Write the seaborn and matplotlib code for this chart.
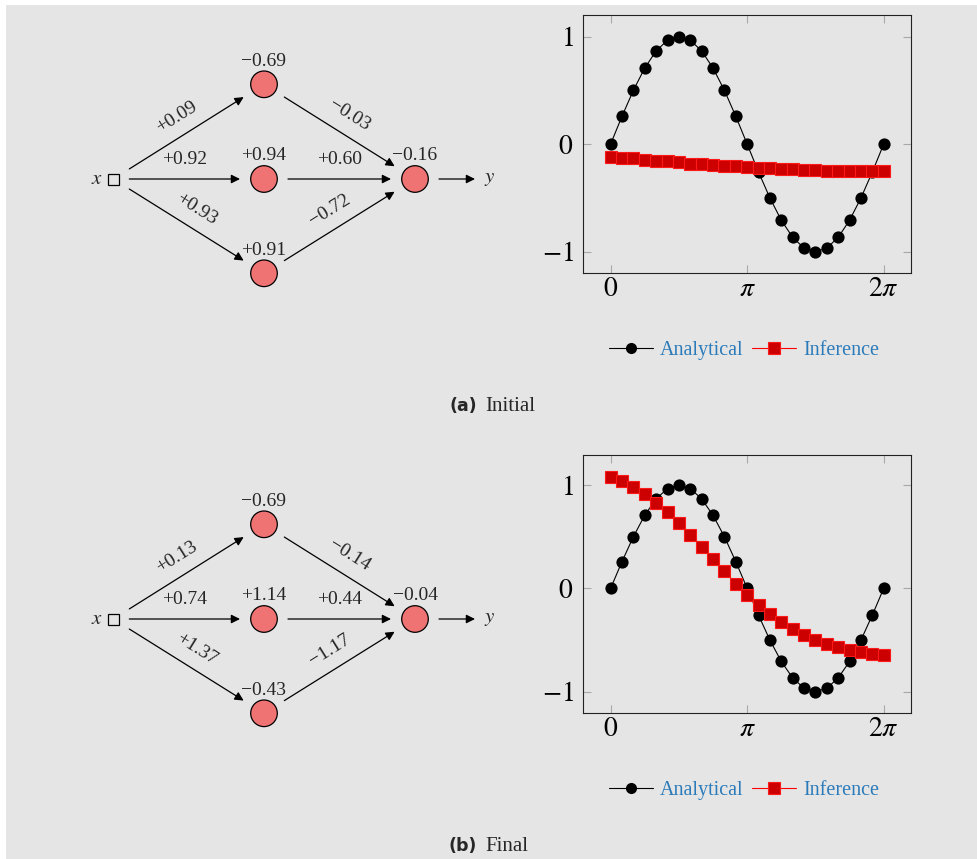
import matplotlib
matplotlib.use("Agg")
import matplotlib.pyplot as plt
import seaborn as sns
import pandas as pd
from matplotlib.patches import Circle, Rectangle
from matplotlib.lines import Line2D

# ---------------- data ----------------
x_vals = [0.0, 0.262, 0.524, 0.785, 1.047, 1.309, 1.571, 1.833, 2.094, 2.356,
          2.618, 2.880, 3.142, 3.403, 3.665, 3.927, 4.189, 4.451, 4.712, 4.974,
          5.236, 5.498, 5.760, 6.021, 6.283]
analytical = [0.0, 0.259, 0.5, 0.707, 0.866, 0.966, 1.0, 0.966, 0.866, 0.707,
              0.5, 0.259, 0.0, -0.259, -0.5, -0.707, -0.866, -0.966, -1.0, -0.966,
              -0.866, -0.707, -0.5, -0.259, 0.0]
inference_initial = [-0.115, -0.127, -0.133, -0.143, -0.152, -0.161, -0.170, -0.180,
                     -0.186, -0.195, -0.201, -0.207, -0.214, -0.220, -0.226, -0.229,
                     -0.232, -0.238, -0.241, -0.245, -0.248, -0.251, -0.251, -0.254,
                     -0.254]
inference_final = [1.082, 1.037, 0.979, 0.911, 0.827, 0.737, 0.631, 0.518, 0.399,
                   0.280, 0.164, 0.046, -0.065, -0.161, -0.251, -0.329, -0.396,
                   -0.451, -0.500, -0.538, -0.570, -0.596, -0.615, -0.632, -0.647]

hidden_bias_initial = [-0.69, 0.94, 0.91]
w_in_initial = [0.09, 0.92, 0.93]
w_out_initial = [-0.03, 0.60, -0.72]
out_bias_initial = -0.16

hidden_bias_final = [-0.69, 1.14, -0.43]
w_in_final = [0.13, 0.74, 1.37]
w_out_final = [-0.14, 0.44, -1.17]
out_bias_final = -0.04

xtick_vals = [0.0, 3.1416, 6.2832]
xtick_labels = ["$0$", "$\\pi$", "$2\\pi$"]
ytick_vals = [-1, 0, 1]
ytick_labels = ["$-1$", "$0$", "$1$"]
legend_labels = ["Analytical", "Inference"]
caption_tags = ["(a)", "(b)"]
caption_texts = ["Initial", "Final"]

# ---------------- style ----------------
sns.set_theme(style="ticks")
plt.rcParams["font.family"] = ["Liberation Serif", "DejaVu Serif"]
plt.rcParams["mathtext.fontset"] = "stix"

W, H = 978, 859
BG = "#e5e5e5"
NODE = "#f07373"
LEG_BLUE = "#2b7bbb"

fig = plt.figure(figsize=(W / 100, H / 100), dpi=100)
fig.patch.set_facecolor("white")
fig.add_artist(Rectangle((6 / W, 0), (W - 6) / W, (H - 5) / H,
                         transform=fig.transFigure, facecolor=BG,
                         edgecolor="none", zorder=-10))

# diagram canvas in pixel coordinates
ax_d = fig.add_axes([0, 0, 1, 1])
ax_d.set_xlim(0, W)
ax_d.set_ylim(H, 0)
ax_d.axis("off")
ax_d.patch.set_alpha(0)


def fmt(v):
    return f"{v:+.2f}".replace("-", "\u2212")


def arrow(ax, p0, p1):
    ax.annotate("", xy=p1, xytext=p0,
                arrowprops=dict(arrowstyle="-|>", color="black", lw=0.9,
                                mutation_scale=13, shrinkA=0, shrinkB=0))


def draw_network(ax, oy, hb, w_in, w_out, ob):
    import math
    inp = (113.3, 179 + oy)
    hid = [(264, 84.3 + oy), (264, 179 + oy), (264, 273.3 + oy)]
    out = (415, 179 + oy)
    r = 13.3
    gap = 24
    fs = 14
    # input
    ax.text(inp[0] - 16, inp[1] + 1, "$x$", ha="center", va="center", fontsize=15)
    ax.add_patch(Rectangle((inp[0] - 5.5, inp[1] - 5.5), 11, 11, facecolor="none",
                           edgecolor="black", lw=0.9))
    # nodes
    for (hx, hy), b in zip(hid, hb):
        ax.add_patch(Circle((hx, hy), r, facecolor=NODE, edgecolor="black", lw=0.9))
        ax.text(hx, hy - 23, fmt(b), ha="center", va="center", fontsize=fs)
    ax.add_patch(Circle(out, r, facecolor=NODE, edgecolor="black", lw=0.9))
    ax.text(out[0], out[1] - 23, fmt(ob), ha="center", va="center", fontsize=fs)

    def edge(p_start, p_end, w, start_x=None, start_gap=None):
        dx, dy = p_end[0] - p_start[0], p_end[1] - p_start[1]
        L = math.hypot(dx, dy)
        ux, uy = dx / L, dy / L
        if start_x is not None:
            t = (start_x - p_start[0]) / dx
            s = (start_x, p_start[1] + t * dy)
        else:
            s = (p_start[0] + start_gap * ux, p_start[1] + start_gap * uy)
        e = (p_end[0] - gap * ux, p_end[1] - gap * uy)
        arrow(ax, s, e)
        # label above (perpendicular pointing up on screen)
        nx, ny = uy, -ux
        if ny > 0:
            nx, ny = -nx, -ny
        mx, my = (s[0] + e[0]) / 2, (s[1] + e[1]) / 2
        rot = -math.degrees(math.atan2(dy, dx))
        ax.text(mx + 19 * nx, my + 19 * ny, fmt(w), ha="center", va="center",
                fontsize=fs, rotation=rot, rotation_mode="anchor")

    for h, w in zip(hid, w_in):
        edge(inp, h, w, start_x=129.3)
    for h, w in zip(hid, w_out):
        edge(h, out, w, start_gap=gap)
    arrow(ax, (out[0] + gap, out[1]), (475, out[1]))
    ax.text(490, out[1], "$y$", ha="center", va="center", fontsize=15)


def draw_chart(oy, inference):
    left, right, top, bottom = 583.3, 911, 15 + oy, 273.3 + oy
    ax = fig.add_axes([left / W, 1 - bottom / H, (right - left) / W, (bottom - top) / H])
    ax.set_facecolor("none")
    df = pd.DataFrame({"x": x_vals, "analytical": analytical, "inference": inference})
    sns.lineplot(data=df, x="x", y="analytical", ax=ax, color="black", marker="o",
                 markersize=8.8, markeredgewidth=0, linewidth=0.8, sort=False)
    sns.lineplot(data=df, x="x", y="inference", ax=ax, color="red", marker="s",
                 markersize=8.4, markerfacecolor="#cc0000", markeredgecolor="#ff1a1a",
                 markeredgewidth=0.8, linewidth=0.8, sort=False)
    ax.margins(x=0.1, y=0.1)
    ax.set_xticks(xtick_vals)
    ax.set_xticklabels(xtick_labels)
    ax.set_yticks(ytick_vals)
    ax.set_yticklabels(ytick_labels)
    ax.set_xlabel("")
    ax.set_ylabel("")
    ax.tick_params(direction="in", length=6, width=0.8, color="#a8a8a8",
                   top=True, right=True, labelsize=20, labelcolor="black")
    ax.tick_params(axis="y", pad=7)
    ax.tick_params(axis="x", pad=3)
    for sp in ax.spines.values():
        sp.set_visible(True)
        sp.set_color("#222222")
        sp.set_linewidth(0.8)
    handles = [
        Line2D([], [], color="black", marker="o", markersize=8, markeredgewidth=0, lw=0.8),
        Line2D([], [], color="red", marker="s", markersize=8, markerfacecolor="#cc0000",
               markeredgecolor="#ff1a1a", markeredgewidth=0.8, lw=0.8),
    ]
    fig.legend(handles, legend_labels, loc="center",
               bbox_to_anchor=(744 / W, 1 - (350 + oy) / H), ncol=2, frameon=False,
               handlelength=2.2, handletextpad=0.35, columnspacing=0.4,
               fontsize=14.5, labelcolor=LEG_BLUE, borderpad=0, borderaxespad=0)
    return ax


panels = [
    (0, hidden_bias_initial, w_in_initial, w_out_initial, out_bias_initial, inference_initial),
    (440, hidden_bias_final, w_in_final, w_out_final, out_bias_final, inference_final),
]
for i, (oy, hb, wi, wo, ob, inf) in enumerate(panels):
    draw_network(ax_d, oy, hb, wi, wo, ob)
    draw_chart(oy, inf)
    ax_d.text(477, 411 + oy, caption_tags[i], ha="right", va="baseline",
              fontsize=12.5, fontweight="bold", family=["DejaVu Sans"])
    ax_d.text(485, 411 + oy, caption_texts[i], ha="left", va="baseline", fontsize=15)

fig.savefig("out.png", dpi=100, facecolor=fig.get_facecolor())
